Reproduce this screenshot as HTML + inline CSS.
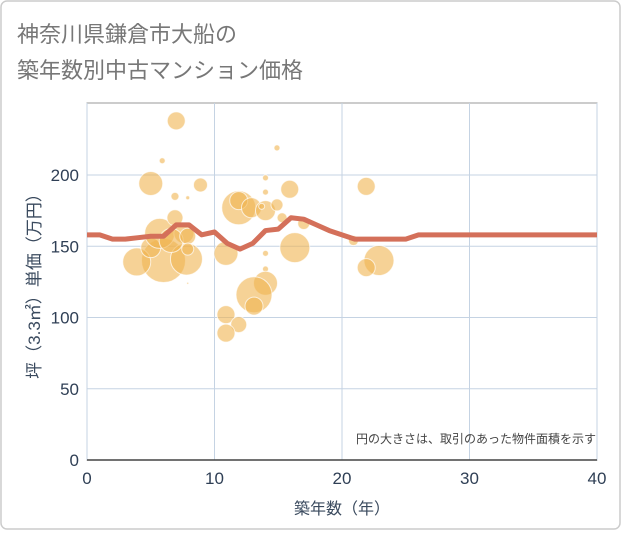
<!DOCTYPE html>
<html><head><meta charset="utf-8"><style>
body{margin:0;background:#fff;}
svg text{font-family:"Liberation Sans","Noto Sans CJK JP",sans-serif;}
</style></head><body>
<svg width="621" height="530">
<rect x="1" y="1" width="619" height="528" rx="6" fill="#fff" stroke="#ccc" stroke-width="1.5"/>
<text x="17" y="42" font-size="22" fill="#777">神奈川県鎌倉市大船の</text>
<text x="17" y="78" font-size="22" fill="#777">築年数別中古マンション価格</text>
<g id="plot"></g>
<text x="596" y="443" font-size="12" fill="#444" text-anchor="end">円の大きさは、取引のあった物件面積を示す</text>
<text x="342" y="514" font-size="16" fill="#3a4a5e" text-anchor="middle">築年数（年）</text>
<text transform="translate(40,282) rotate(-90)" font-size="17" fill="#3a4a5e" text-anchor="middle">坪（3.3㎡）単価（万円）</text>
</svg>
<script>
const xTicks=[0,10,20,30,40];
const yTicks=[0,50,100,150,200];
const bubbleYears=[7.0,5.9,5.0,6.9,7.9,8.9,6.0,3.9,7.8,5.0,5.7,6.9,7.6,6.6,7.9,7.9,7.9,11.9,11.9,12.9,14.0,13.7,14.0,14.0,15.9,14.9,14.9,15.3,16.3,17.0,14.0,14.0,14.0,13.1,13.1,10.9,11.9,10.9,21.9,20.9,22.9,21.9,10.9];
const bubblePrices=[238,210,194,185,184,193,140,139,141,149,159,170,159,154,157,148,124,177,182,177,175,178,198,188,190,219,179,170,149,166,145,134,124,116,108,102,95,89,192,154,140,135,145];
const bubbleSizes=[9,3,12,4,2,7,22,14,16,10,15,8,10,12,8,6,1,17,9,10,10,3,3,3,9,3,6,5,15,6,3,3,12,18,9,9,8,9,9,5,15,9,12];
const lineYears=[0,1,2,3,4,5,6,7,8,9,10,11,12,13,14,15,16,17,18,19,20,21,22,23,24,25,26,27,28,29,30,31,32,33,34,35,36,37,38,39,40];
const linePrices=[158,158,155,155,156,157,157,165,165,158,160,152,148,152,161,162,170,169,165,161,158,155,155,155,155,155,158,158,158,158,158,158,158,158,158,158,158,158,158,158,158];
const X0=87,X1=597,Y0=460,Y1=103;
const xs=v=>X0+(v/40)*(X1-X0);
const ys=v=>Y0-v*(460-175)/200;
const NS="http://www.w3.org/2000/svg";
const g=document.getElementById('plot');
function mk(t,a){const e=document.createElementNS(NS,t);for(const k in a)e.setAttribute(k,a[k]);g.appendChild(e);return e;}
const bg=mk('rect',{x:X0,y:Y1,width:X1-X0,height:Y0-Y1,fill:'#fff',stroke:'#999','stroke-width':1});


yTicks.forEach(v=>{
 const l=mk('line',{x1:X0,x2:X1,y1:ys(v),y2:ys(v),stroke:'#c5d3e3','stroke-width':1});
 
 
 const t=mk('text',{x:X0-8,y:ys(v)+6,'font-size':17,fill:'#2f3f55','text-anchor':'end'});
 t.textContent=v;
 
 
});
xTicks.forEach(v=>{
 const l=mk('line',{x1:xs(v),x2:xs(v),y1:Y1,y2:Y0,stroke:'#c5d3e3','stroke-width':1});
 
 
 const t=mk('text',{x:xs(v),y:Y0+24,'font-size':17,fill:'#2f3f55','text-anchor':'middle'});
 t.textContent=v;
 
 
});
const ax=mk('line',{x1:X0,x2:X1,y1:Y0,y2:Y0,stroke:'#444','stroke-width':1.5});


bubbleYears.forEach((yr,i)=>{
 const c=mk('circle',{cx:xs(yr),cy:ys(bubblePrices[i]),r:bubbleSizes[i],fill:'rgba(240,180,80,0.6)',stroke:'rgba(255,255,255,0.7)','stroke-width':1});
 
 
});
const p=mk('polyline',{points:lineYears.map((y,i)=>xs(y)+','+ys(linePrices[i])).join(' '),fill:'none',stroke:'#d4705a','stroke-width':5,'stroke-linejoin':'round'});


</script>
</body></html>
